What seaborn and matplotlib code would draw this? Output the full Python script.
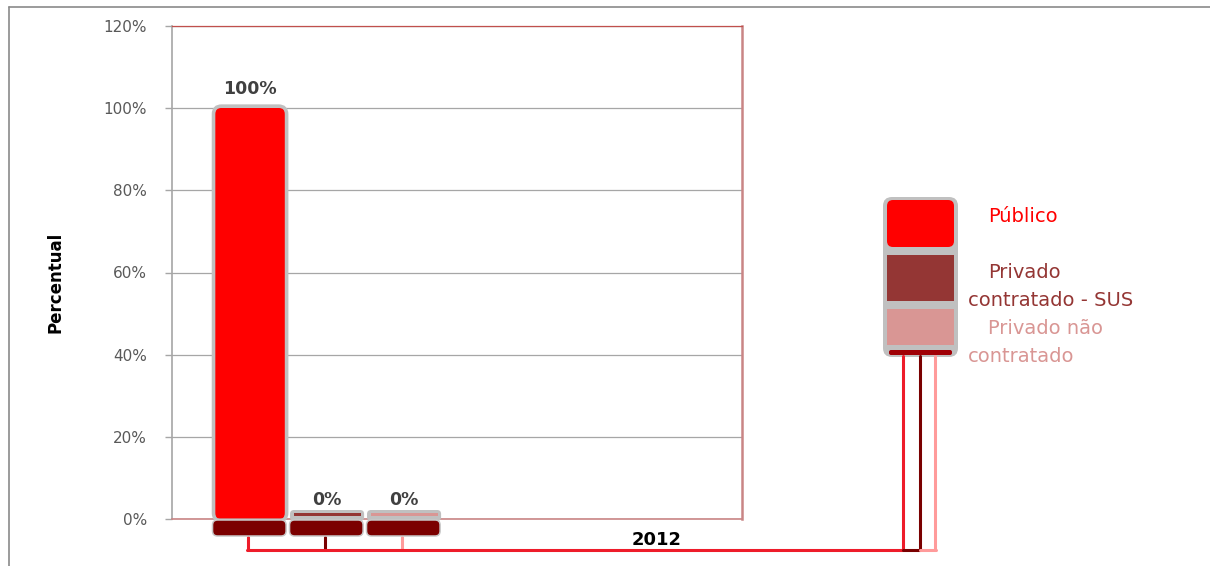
import matplotlib
matplotlib.use("Agg")
import matplotlib.pyplot as plt
import matplotlib.transforms as mtransforms
from matplotlib.patches import FancyBboxPatch, Rectangle
from matplotlib.lines import Line2D
import seaborn as sns
import pandas as pd
import textwrap

# ---------------- data ----------------
years = ["2012"]
categories = ["Público", "Privado contratado - SUS", "Privado não contratado"]
values = [100, 0, 0]
value_labels = ["100%", "0%", "0%"]
colors = ["#ff0000", "#943634", "#d99694"]
connector_colors = ["#ee1c2a", "#7a0000", "#ff9b9b"]
yticks = [0, 20, 40, 60, 80, 100, 120]
ytick_labels = ["0%", "20%", "40%", "60%", "80%", "100%", "120%"]
ylabel = "Percentual"

# ---------------- figure ----------------
W, H = 1210, 566
sns.set_theme(style="white")
plt.rcParams["font.family"] = ["DejaVu Sans"]

fig = plt.figure(figsize=(W / 100, H / 100), dpi=100)
fig.patch.set_facecolor("white")
ax = fig.add_axes([172 / W, 1 - 519 / H, 570 / W, 493 / H])

# pixel transform (reference pixels, y downward)
P = mtransforms.Affine2D().scale(1 / W, -1 / H).translate(0, 1) + fig.transFigure

df = pd.DataFrame({"Ano": years * len(categories), "Categoria": categories, "Valor": values})
sns.barplot(data=df, x="Ano", y="Valor", hue="Categoria", hue_order=categories,
            palette=colors, width=0.8, gap=0.09, saturation=1, errorbar=None,
            legend=False, ax=ax, linewidth=0, edgecolor="none")

ax.set_xlim(-0.537, 1.437)
ax.set_ylim(0, 120)
ax.set_yticks(yticks)
ax.set_yticklabels(ytick_labels, fontsize=11, color="#595959")
ax.tick_params(axis="y", left=True, length=5, width=1, color="#a6a6a6", pad=13)
ax.tick_params(axis="x", bottom=False, labelbottom=False)
ax.set_xlabel("")
ax.set_ylabel(ylabel, fontsize=12, fontweight="bold", color="black", va="center")
ax.yaxis.set_label_coords((55 - 172) / 570, (519 - 282) / 493)
ax.yaxis.grid(True, color="#a6a6a6", lw=0.9)
ax.xaxis.grid(False)
ax.set_axisbelow(True)
ax.spines["left"].set_color("#a6a6a6")
ax.spines["left"].set_linewidth(1.2)
ax.spines["top"].set_color("#c0504d")
ax.spines["top"].set_linewidth(0.9)
ax.spines["right"].set_color("#c98585")
ax.spines["right"].set_linewidth(1.8)
ax.spines["bottom"].set_color("#c98585")
ax.spines["bottom"].set_linewidth(1.2)


def to_px(x, y):
    dx, dy = ax.transData.transform((x, y))
    return dx, H - dy


LINE_Y = 550
centers = []
for i, (patch, col, val, lab) in enumerate(zip(ax.patches, colors, values, value_labels)):
    x0 = patch.get_x()
    w = patch.get_width()
    h = patch.get_height()
    px0, ptop = to_px(x0, h)
    px1, pbot = to_px(x0 + w, 0)
    bw = px1 - px0
    if pbot - ptop > 12:
        outline = FancyBboxPatch((px0 - 1.5, ptop - 2), bw + 3, (pbot + 2) - (ptop - 2),
                                 boxstyle="round,pad=0,rounding_size=8", fill=False,
                                 ec="#c0c0c0", lw=2.6, transform=P, zorder=2)
        fig.add_artist(outline)
        patch.set_clip_path(outline)
    else:
        fig.add_artist(FancyBboxPatch((px0 - 2, pbot - 9), bw + 4, 11,
                                      boxstyle="round,pad=0,rounding_size=4", fc="#c0c0c0",
                                      lw=0, transform=P, zorder=2))
        fig.add_artist(Rectangle((px0 + 1.5, pbot - 6.5), bw - 3, 3, fc=col, lw=0,
                                 transform=P, zorder=3))
    # dark base
    fig.add_artist(FancyBboxPatch((px0 - 2.5, pbot + 1), bw + 3.5, 16,
                                  boxstyle="round,pad=0,rounding_size=5", fc="#7b0000",
                                  ec="#c8c8c8", lw=1.1, transform=P, zorder=3))
    cx = (px0 + px1) / 2 - 2
    centers.append(cx)
    fig.add_artist(Line2D([cx, cx], [pbot + 17.5, LINE_Y], color=connector_colors[i],
                          lw=2.2, transform=P, zorder=2))
    ax.annotate(lab, xy=(x0 + w / 2, h), xytext=(0, 14), textcoords="offset points",
                ha="center", va="center", fontsize=12.5, fontweight="bold",
                color="#404040", annotation_clip=False)

# ---------------- legend box ----------------
leg_x = [903, 920, 935]
fig.add_artist(FancyBboxPatch((883, 197), 75, 160, boxstyle="round,pad=0,rounding_size=9",
                              fc="#c0c0c0", lw=0, transform=P, zorder=2))
fig.add_artist(FancyBboxPatch((887, 200), 67, 47, boxstyle="round,pad=0,rounding_size=6",
                              fc=colors[0], lw=0, transform=P, zorder=3))
fig.add_artist(Rectangle((887, 255), 67, 46, fc=colors[1], lw=0, transform=P, zorder=3))
fig.add_artist(Rectangle((887, 309), 67, 36, fc=colors[2], lw=0, transform=P, zorder=3))
fig.add_artist(FancyBboxPatch((889, 350), 63, 5, boxstyle="round,pad=0,rounding_size=2",
                              fc="#a00006", lw=0, transform=P, zorder=3))
for lx, lc in zip(leg_x, connector_colors):
    fig.add_artist(Line2D([lx, lx], [356, LINE_Y], color=lc, lw=2.2, transform=P, zorder=2))

# horizontal connector
fig.add_artist(Line2D([centers[0] - 1, leg_x[0]], [LINE_Y, LINE_Y], color=connector_colors[0],
                      lw=2.2, transform=P, zorder=2))
fig.add_artist(Line2D([leg_x[0], leg_x[1]], [LINE_Y, LINE_Y], color=connector_colors[1],
                      lw=2.2, transform=P, zorder=2))
fig.add_artist(Line2D([leg_x[1], leg_x[2] + 1], [LINE_Y, LINE_Y], color=connector_colors[2],
                      lw=2.2, transform=P, zorder=2))

# legend labels
first_y = [217, 273, 329]
for cat, col, y0 in zip(categories, colors, first_y):
    lines = textwrap.wrap(cat, 16)
    for j, line in enumerate(lines):
        fig.text(988 if j == 0 else 968, y0 + 27 * j, line, transform=P, ha="left",
                 va="center", fontsize=14, color=col)

# year label
fig.text(657, 540, years[0], transform=P, ha="center", va="center", fontsize=13,
         fontweight="bold", color="black")

# outer frame
fig.add_artist(Line2D([8.5, W], [6.5, 6.5], color="#8a8a8a", lw=1.2, transform=P))
fig.add_artist(Line2D([8.5, 8.5], [6.5, H], color="#8a8a8a", lw=1.2, transform=P))

fig.savefig("out.png", dpi=100)
